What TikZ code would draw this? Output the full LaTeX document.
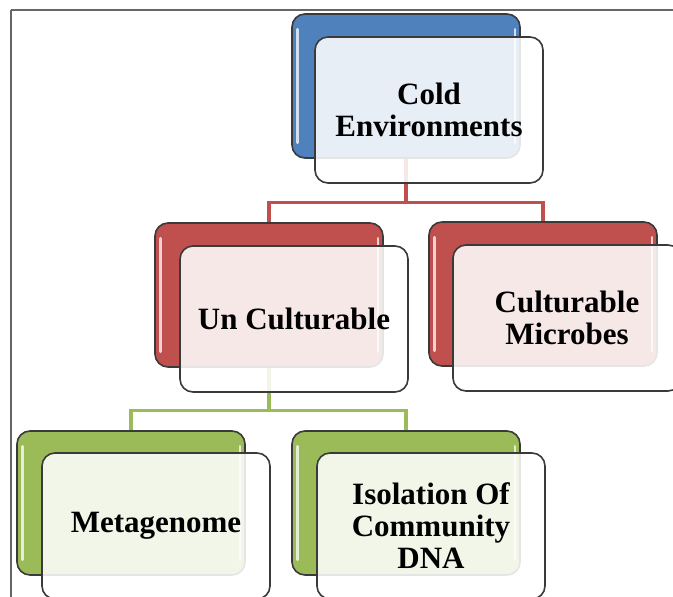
\documentclass[tikz,border=0pt]{standalone}
\usepackage{fontspec}
\setmainfont{Liberation Serif}
\definecolor{ofblue}{HTML}{4F81BD}
\definecolor{ofred}{HTML}{C0504D}
\definecolor{ofgreen}{HTML}{9BBB59}
\definecolor{edge}{HTML}{3A3A3A}
\definecolor{framegray}{HTML}{666666}
\tikzset{
  backbox/.style={draw=edge, line width=1.6pt, rounded corners=13pt,
    minimum width=228pt, minimum height=144pt, inner sep=0pt},
  frontbox/.style={draw=edge, line width=1.6pt, rounded corners=13pt,
    fill=white, fill opacity=0.87, text opacity=1,
    minimum width=228pt, minimum height=146pt, inner sep=0pt,
    align=center, font=\fontsize{31}{32}\selectfont\bfseries},
  gloss/.style={white, opacity=0.75, line width=2.6pt, line cap=round},
  redlink/.style={ofred, line width=3.2pt},
  greenlink/.style={ofgreen, line width=3.2pt}
}
\begin{document}
\begin{tikzpicture}[x=1pt, y=-1pt]
            \useasboundingbox (0,0) rectangle (673,597);
            \clip (0,0) rectangle (673,597);
            \draw[framegray, line width=2.6pt] (11,10) -- (673,10);
            \draw[framegray, line width=2.6pt] (11,10) -- (11,597);

            % coloured back boxes
            \node[backbox, fill=ofblue] (coldback) at (406,86) {};
            \node[backbox, fill=ofred] (uncback) at (269,295) {};
            \node[backbox, fill=ofred] (culback) at (543,294) {};
            \node[backbox, fill=ofgreen] (metaback) at (131,503) {};
            \node[backbox, fill=ofgreen] (isoback) at (406,503) {};
            \foreach \b in {coldback,uncback,culback,metaback,isoback}{
              \draw[gloss] ([xshift=6pt,yshift=-16pt]\b.north west) -- ([xshift=6pt,yshift=16pt]\b.south west);
              \draw[gloss] ([xshift=-6pt,yshift=-16pt]\b.north east) -- ([xshift=-6pt,yshift=16pt]\b.south east);
            }

            % links
            \draw[redlink] (coldback.south) -- ++(0,44) -| (uncback.north);
            \draw[redlink] (coldback.south) -- ++(0,44) -| (culback.north);
            \draw[greenlink] (uncback.south) -- ++(0,43) -| (metaback.north);
            \draw[greenlink] (uncback.south) -- ++(0,43) -| (isoback.north);

            % text boxes
            \node[frontbox] (cold) at (429,110) {Cold\\Environments};
            \node[frontbox] (unc) at (294,319) {Un Culturable};
            \node[frontbox] (cul) at (567,318) {Culturable\\Microbes};
            \node[frontbox] (meta) at (156,526) {Metagenome};
            \node[frontbox] (iso) at (431,526) {Isolation Of\\Community\\DNA};
\end{tikzpicture}
\end{document}
